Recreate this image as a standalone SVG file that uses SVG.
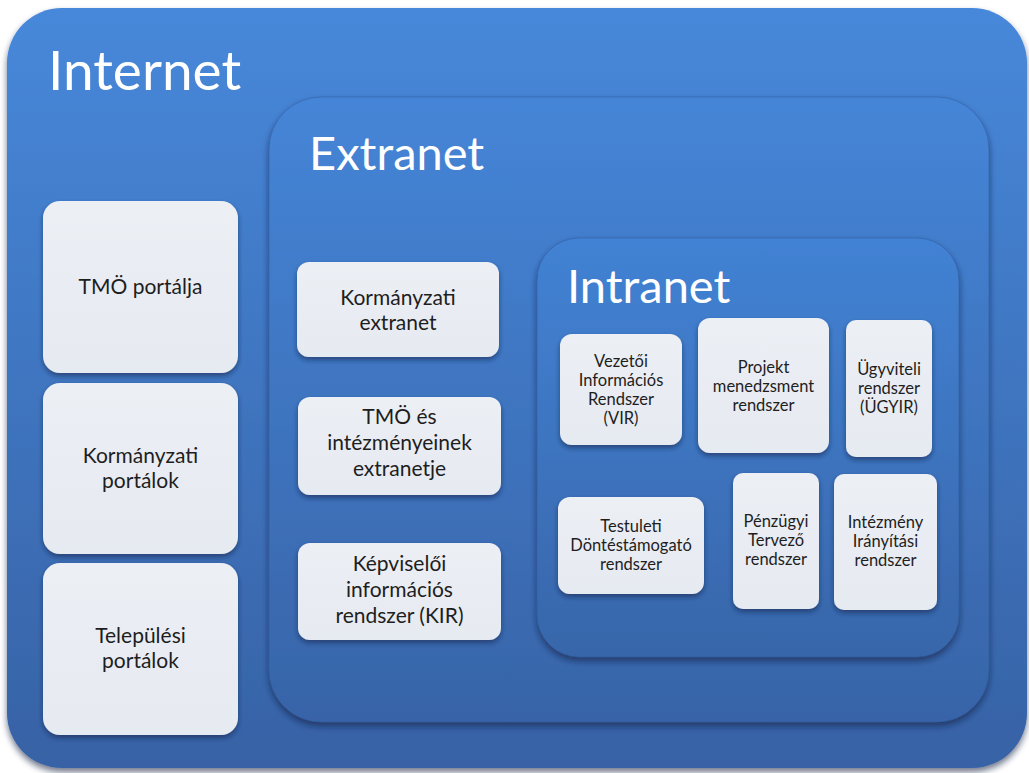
<svg xmlns="http://www.w3.org/2000/svg" width="1029" height="773" viewBox="0 0 1029 773">
<defs>
<linearGradient id="gOuter" x1="0" y1="0" x2="0" y2="1">
<stop offset="0" stop-color="#4788da"/>
<stop offset="1" stop-color="#3762a5"/>
</linearGradient>
<linearGradient id="gExt" x1="0" y1="0" x2="0" y2="1">
<stop offset="0" stop-color="#4585d7"/>
<stop offset="1" stop-color="#3864a8"/>
</linearGradient>
<linearGradient id="gInt" x1="0" y1="0" x2="0" y2="1">
<stop offset="0" stop-color="#4282d4"/>
<stop offset="1" stop-color="#3866aa"/>
</linearGradient>
<linearGradient id="gBox" x1="0" y1="0" x2="0" y2="1">
<stop offset="0" stop-color="#eceff4"/>
<stop offset="1" stop-color="#e6eaf1"/>
</linearGradient>
<filter id="sh" x="-10%" y="-10%" width="120%" height="125%">
<feDropShadow dx="0" dy="3" stdDeviation="2.5" flood-color="#0d2142" flood-opacity="0.55"/>
</filter>
<filter id="shBig" x="-10%" y="-10%" width="120%" height="120%">
<feDropShadow dx="0" dy="4" stdDeviation="3" flood-color="#0d2142" flood-opacity="0.6"/>
</filter>
</defs>
<style>
.title{font-family:Lato,"Open Sans",sans-serif;fill:#ffffff;font-weight:400;}
.lbl{font-family:Lato,"Open Sans",sans-serif;fill:#1e1e1e;text-anchor:middle;font-weight:400;}
.l20{font-size:21px;}
.l16{font-size:16.5px;}
.box{fill:url(#gBox);filter:url(#sh);}
</style>
<rect width="1029" height="773" fill="#ffffff"/>
<g id="internet">
<rect x="7" y="8" width="1020" height="760" rx="55" ry="55" fill="url(#gOuter)" filter="url(#shBig)"/>
<text class="title" x="48" y="90" font-size="55">Internet</text>
</g>
<g id="extranet">
<rect x="269" y="97" width="720" height="625" rx="52" ry="52" fill="url(#gExt)" stroke="#2f5897" stroke-opacity="0.5" stroke-width="1" filter="url(#shBig)"/>
<text class="title" x="309" y="170" font-size="47">Extranet</text>
</g>
<g id="intranet">
<rect x="537" y="238" width="422" height="419" rx="42" ry="42" fill="url(#gInt)" stroke="#2f5897" stroke-opacity="0.5" stroke-width="1" filter="url(#shBig)"/>
<text class="title" x="567" y="303" font-size="47">Intranet</text>
</g>
<g id="tmo-portalja">
<rect class="box" x="43" y="201" width="195" height="172" rx="17"/>
<text class="lbl l20" x="140.5" y="294">TMÖ portálja</text>
</g>
<g id="kormanyzati-portalok">
<rect class="box" x="43" y="383" width="195" height="171" rx="17"/>
<text class="lbl l20" x="140.5" y="463">Kormányzati</text>
<text class="lbl l20" x="140.5" y="488">portálok</text>
</g>
<g id="telepulesi-portalok">
<rect class="box" x="43" y="563" width="195" height="172" rx="17"/>
<text class="lbl l20" x="140.5" y="643">Települési</text>
<text class="lbl l20" x="140.5" y="668">portálok</text>
</g>
<g id="kormanyzati-extranet">
<rect class="box" x="297" y="262" width="202" height="95" rx="12"/>
<text class="lbl l20" x="398" y="305">Kormányzati</text>
<text class="lbl l20" x="398" y="330">extranet</text>
</g>
<g id="tmo-extranet">
<rect class="box" x="298" y="397" width="203" height="98" rx="12"/>
<text class="lbl l20" x="399.5" y="424">TMÖ és</text>
<text class="lbl l20" x="399.5" y="450">intézményeinek</text>
<text class="lbl l20" x="399.5" y="476">extranetje</text>
</g>
<g id="kir">
<rect class="box" x="298" y="543" width="203" height="97" rx="12"/>
<text class="lbl l20" x="399.5" y="571">Képviselői</text>
<text class="lbl l20" x="399.5" y="597">információs</text>
<text class="lbl l20" x="399.5" y="623">rendszer (KIR)</text>
</g>
<g id="vir">
<rect class="box" x="560" y="334" width="122" height="111" rx="12"/>
<text class="lbl l16" x="621" y="367">Vezetői</text>
<text class="lbl l16" x="621" y="386">Információs</text>
<text class="lbl l16" x="621" y="405">Rendszer</text>
<text class="lbl l16" x="621" y="424">(VIR)</text>
</g>
<g id="projekt">
<rect class="box" x="698" y="318" width="131" height="135" rx="12"/>
<text class="lbl l16" x="763.5" y="373">Projekt</text>
<text class="lbl l16" x="763.5" y="392">menedzsment</text>
<text class="lbl l16" x="763.5" y="411">rendszer</text>
</g>
<g id="ugyir">
<rect class="box" x="846" y="320" width="86" height="137" rx="10"/>
<text class="lbl l16" x="889" y="375">Ügyviteli</text>
<text class="lbl l16" x="889" y="394">rendszer</text>
<text class="lbl l16" x="889" y="413">(ÜGYIR)</text>
</g>
<g id="testuleti">
<rect class="box" x="558" y="497" width="146" height="97" rx="12"/>
<text class="lbl l16" x="631" y="532">Testuleti</text>
<text class="lbl l16" x="631" y="551">Döntéstámogató</text>
<text class="lbl l16" x="631" y="570">rendszer</text>
</g>
<g id="penzugyi">
<rect class="box" x="733" y="473" width="86" height="136" rx="10"/>
<text class="lbl l16" x="776" y="527">Pénzügyi</text>
<text class="lbl l16" x="776" y="546">Tervező</text>
<text class="lbl l16" x="776" y="565">rendszer</text>
</g>
<g id="intezmeny">
<rect class="box" x="834" y="474" width="103" height="136" rx="10"/>
<text class="lbl l16" x="885.5" y="528">Intézmény</text>
<text class="lbl l16" x="885.5" y="547">Irányítási</text>
<text class="lbl l16" x="885.5" y="566">rendszer</text>
</g>
</svg>
